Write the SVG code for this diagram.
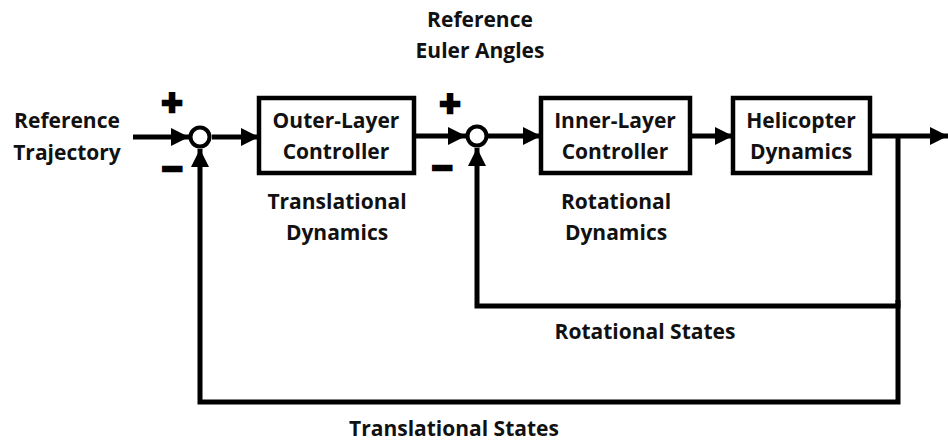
<svg xmlns="http://www.w3.org/2000/svg" width="948" height="441" viewBox="0 0 948 441">
  <style>
    .box { fill: #fff; stroke: #000; stroke-width: 4.5; }
    .sum { fill: #fff; stroke: #000; stroke-width: 4; }
    .wire { fill: none; stroke: #000; stroke-width: 5; stroke-linejoin: miter; }
    text { font-family: "Open Sans", "Liberation Sans", sans-serif; font-weight: 700; font-size: 21px; fill: #111; text-anchor: middle; }
    .sign { font-family: "Liberation Sans", sans-serif; font-size: 36px; fill: #000; stroke: #000; stroke-width: 2.5; }
  </style>
  <defs>
    <marker id="arrow" markerUnits="userSpaceOnUse" markerWidth="20" markerHeight="20" refX="18" refY="10" orient="auto">
      <path d="M0,1 L18,10 L0,19 Z" fill="#000"/>
    </marker>
  </defs>

  <rect width="948" height="441" fill="#fff"/>

  <!-- signal lines -->
  <g id="connectors">
    <path class="wire" d="M133,137 L189,137" marker-end="url(#arrow)"/>
    <path class="wire" d="M212,137 L259,137" marker-end="url(#arrow)"/>
    <path class="wire" d="M414,136 L466,136" marker-end="url(#arrow)"/>
    <path class="wire" d="M488,136 L541,136" marker-end="url(#arrow)"/>
    <path class="wire" d="M690,136 L733,136" marker-end="url(#arrow)"/>
    <path class="wire" d="M870,136 L948,136" marker-end="url(#arrow)"/>
    <!-- rotational feedback -->
    <path class="wire" d="M898,136 L898,306 L477,306 L477,148" marker-end="url(#arrow)"/>
    <!-- translational feedback -->
    <path class="wire" d="M898,300 L898,402 L200,402 L200,149" marker-end="url(#arrow)"/>
  </g>

  <g id="sum1">
    <circle class="sum" cx="200" cy="137" r="9.5"/>
    <text class="sign" x="172" y="115">+</text>
    <text class="sign" x="172" y="181">−</text>
  </g>
  <g id="sum2">
    <circle class="sum" cx="477" cy="136" r="9.5"/>
    <text class="sign" x="450" y="116">+</text>
    <text class="sign" x="442" y="180">−</text>
  </g>

  <g id="outer-controller">
    <rect class="box" x="259" y="98" width="155" height="75"/>
    <text x="336" y="128">Outer-Layer</text>
    <text x="336" y="159">Controller</text>
  </g>
  <g id="inner-controller">
    <rect class="box" x="541" y="98" width="149" height="75"/>
    <text x="615" y="128">Inner-Layer</text>
    <text x="615" y="159">Controller</text>
  </g>
  <g id="helicopter">
    <rect class="box" x="733" y="98" width="137" height="75"/>
    <text x="801" y="128">Helicopter</text>
    <text x="801" y="159">Dynamics</text>
  </g>

  <g id="labels">
    <text x="67" y="128">Reference</text>
    <text x="67" y="160">Trajectory</text>
    <text x="480" y="27">Reference</text>
    <text x="480" y="58">Euler Angles</text>
    <text x="337" y="209">Translational</text>
    <text x="337" y="240">Dynamics</text>
    <text x="616" y="209">Rotational</text>
    <text x="616" y="240">Dynamics</text>
    <text x="645" y="339">Rotational States</text>
    <text x="454" y="436">Translational States</text>
  </g>
</svg>
